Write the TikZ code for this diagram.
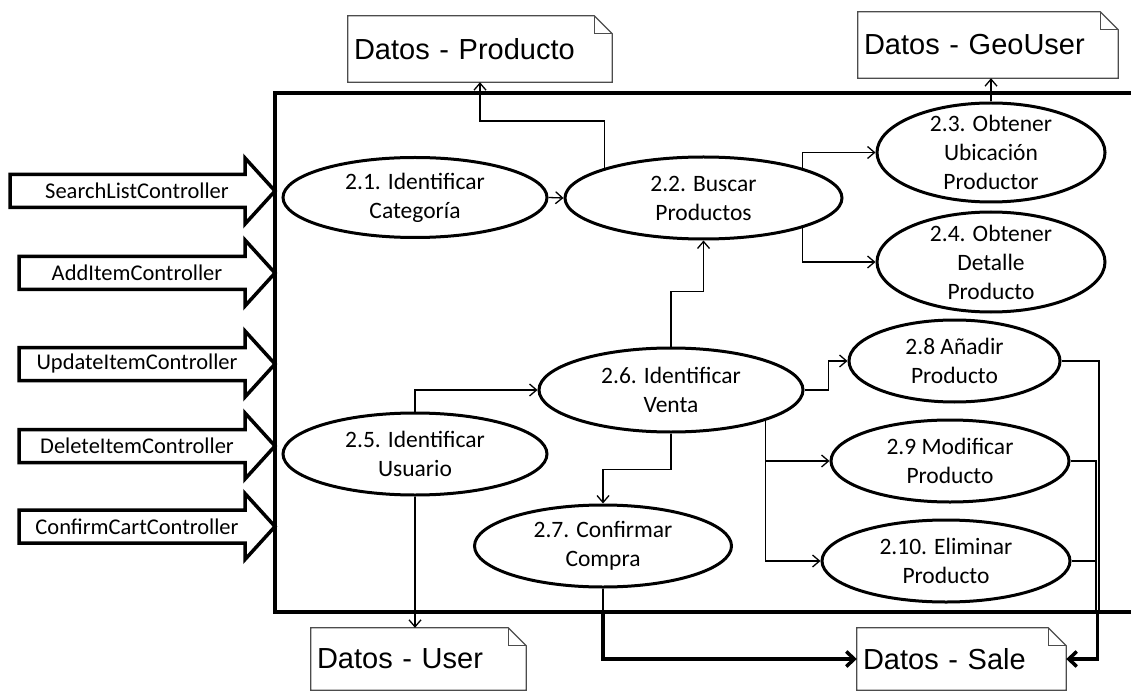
\documentclass[tikz,border=0pt]{standalone}
\usepackage{fontspec}
\setmainfont{Carlito}
\newfontfamily\arialf{Liberation Sans}
\usetikzlibrary{arrows.meta,shapes.geometric,calc}
\tikzset{
  proc/.style={ellipse,draw,line width=3pt,inner sep=-12pt,align=center,
    font=\fontsize{23.5}{29}\selectfont},
  datos/.style={inner xsep=6pt,inner ysep=0pt,align=left,
    font=\arialf\fontsize{29}{34}\selectfont},
  noteln/.style={draw=black!70,line width=1.2pt,line join=miter},
  ctrlln/.style={draw,line width=3.5pt,line join=miter},
  ctrltxt/.style={inner sep=0pt,font=\fontsize{22.5}{27}\selectfont},
  flow/.style={line width=1.3pt,-{Straight Barb[length=7pt,width=12pt]}},
  thkflow/.style={line width=3.5pt,-{Straight Barb[length=8pt,width=15pt]}},
  frameln/.style={line width=4pt}
}
% controller arrow: name, left x, y, text
\newcommand{\ctrlarrow}[4]{%
  \draw[ctrlln] (#2,#3-16.5) -- (245,#3-16.5) -- (245,#3-33) -- (275,#3)
    -- (245,#3+33) -- (245,#3+16.5) -- (#2,#3+16.5) -- cycle;
  \node[ctrltxt] (#1) at (137,#3) {#4};}
% note outline with folded corner
\newcommand{\foldnote}[1]{%
  \draw[noteln] (#1.south west) -- (#1.north west) -- ([xshift=-18pt]#1.north east)
    -- ([yshift=-18pt]#1.north east) -- (#1.south east) -- cycle;
  \draw[noteln] ([xshift=-18pt]#1.north east) -- ([xshift=-18pt,yshift=-18pt]#1.north east)
    -- ([yshift=-18pt]#1.north east);}

\begin{document}
\begin{tikzpicture}[x=1pt,y=-1pt]
\useasboundingbox (0,0) rectangle (1131,692);

% frame
\coordinate (fbl) at (275,612);
\coordinate (bus) at (1099,612);
\draw[frameln] (1131,93) -- (275,93) -- (fbl) -- (1131,612);

% controllers
\ctrlarrow{sl}{10}{191}{SearchListController}
\ctrlarrow{ai}{19}{273}{AddItemController}
\ctrlarrow{ui}{19}{364}{UpdateItemController}
\ctrlarrow{di}{19}{446}{DeleteItemController}
\ctrlarrow{cc}{19}{526.5}{ConfirmCartController}

% processes
\node[proc,minimum width=264,minimum height=80] (c1) at (415,197.5) {2.1. Identificar\\Categoría};
\node[proc,minimum width=277,minimum height=82] (c2) at (703.5,198) {2.2. Buscar\\Productos};
\node[proc,minimum width=228,minimum height=99] (c3) at (991,152.5) {2.3. Obtener\\Ubicación\\Productor};
\node[proc,minimum width=228,minimum height=100] (c4) at (991,262) {2.4. Obtener\\Detalle\\Producto};
\node[proc,minimum width=264,minimum height=82] (c5) at (415,454) {2.5. Identificar\\Usuario};
\node[proc,minimum width=264,minimum height=84] (c6) at (671,390) {2.6. Identificar\\Venta};
\node[proc,minimum width=257,minimum height=82] (c7) at (603,546) {2.7. Confirmar\\Compra};
\node[proc,minimum width=211,minimum height=82] (c8) at (954.5,361) {2.8 Añadir\\Producto};
\node[proc,minimum width=238,minimum height=82] (c9) at (950,461) {2.9 Modificar\\Producto};
\node[proc,minimum width=248,minimum height=82] (c10) at (946,561) {2.10. Eliminar\\Producto};

% data stores
\node[datos,text width=252,minimum height=66] (prod) at (480,49) {Datos - Producto};
\node[datos,text width=248,minimum height=66] (geo) at (988,45) {Datos - GeoUser};
\node[datos,text width=203,minimum height=62] (user) at (418.5,659) {Datos - User};
\node[datos,text width=197,minimum height=62] (sale) at (961.5,659) {Datos - Sale};
\foldnote{prod}\foldnote{geo}\foldnote{user}\foldnote{sale}

% flows
\draw[flow] (c1.east) -- (c2.west);
\draw[flow] (c2.north west) -- ++(0,-47) -| (prod.south);
\draw[flow] (c2.north east) |- (c3.west);
\draw[flow] (c2.south east) |- (c4.west);
\draw[flow] (c3.north) -- (c3.north |- geo.south);
\draw[flow] (c6.north) -- ++(0,-55) -| (c2.south);
\draw[flow] (c5.north) |- (c6.west);
\draw[flow] (c5.south) -- (c5.south |- user.north);
\draw[flow] (c6.south) -- ++(0,36) -| (c7.north);
\draw[flow] (c6.east) -- ++(24,0) |- (c8.west);
\draw[flow] (c6.south east) |- (c9.west);
\draw[flow] (c6.south east) |- (c10.west);

% to sales store
\coordinate (c7out) at (c7.south |- fbl);
\draw[line width=1.3pt] (c7.south) -- (c7out);
\draw[thkflow] (c7out) |- (sale.west);
\draw[line width=1.3pt] (c8.east) -| (bus);
\draw[line width=1.3pt] (c9.east) -| ([xshift=-3pt]bus);
\draw[line width=1.3pt] (c10.east) -| ([xshift=-3pt]bus);
\draw[thkflow] ([xshift=-1.5pt]bus) |- (sale.east);
\end{tikzpicture}
\end{document}
